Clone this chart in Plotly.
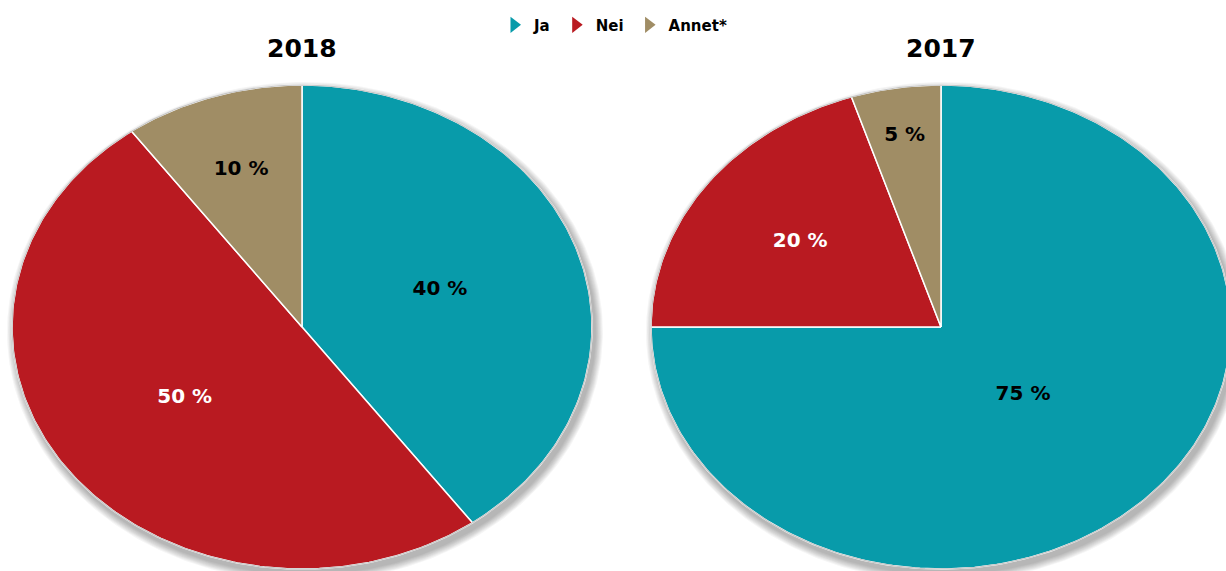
import numpy as np
import plotly.graph_objects as go

# ---- data ----
categories = ["Ja", "Nei", "Annet*"]
years = ["2018", "2017"]
values_2018 = [40, 50, 10]
values_2017 = [75, 20, 5]

# ---- style ----
colors = ["#089BAA", "#B91A21", "#A08D65"]
label_colors = ["black", "white", "black"]
label_radius = [[0.5, 0.5, 0.68], [0.4, 0.6, 0.8]]  # fraction of radius for label placement
W, H = 1226, 571
pies = [dict(cx=302, cy=327, rx=290, ry=242), dict(cx=941, cy=327, rx=290, ry=242)]
FONT = "DejaVu Sans"

fig = go.Figure()


def ell(p, t, r=1.0, dx=0.0, dy=0.0, grow=0.0):
    return (p["cx"] + dx + (p["rx"] + grow) * r * np.sin(t),
            p["cy"] + dy - (p["ry"] + grow) * r * np.cos(t))


for pi, (p, vals) in enumerate(zip(pies, [values_2018, values_2017])):
    full = np.linspace(0, 2 * np.pi, 400)
    # soft shadow
    for k in range(8):
        sx, sy = ell(p, full, dx=3, dy=5, grow=8 - k)
        fig.add_trace(go.Scatter(x=sx, y=sy, mode="lines", fill="toself",
                                 fillcolor="rgba(0,0,0,0.04)", line=dict(width=0),
                                 hoverinfo="skip", showlegend=False))
    total = sum(vals)
    start = 0.0
    lx, ly = [], []
    for i, v in enumerate(vals):
        a0 = start / total * 2 * np.pi
        a1 = (start + v) / total * 2 * np.pi
        t = np.linspace(a0, a1, max(int(v * 4), 20))
        ax, ay = ell(p, t)
        xs = np.concatenate([[p["cx"]], ax, [p["cx"]]])
        ys = np.concatenate([[p["cy"]], ay, [p["cy"]]])
        fig.add_trace(go.Scatter(x=xs, y=ys, mode="lines", fill="toself",
                                 fillcolor=colors[i], line=dict(color="white", width=1.5),
                                 hoverinfo="skip", showlegend=False))
        mid = (a0 + a1) / 2
        tx, ty = ell(p, mid, r=label_radius[pi][i])
        lx.append(tx)
        ly.append(ty)
        start += v
    ox, oy = ell(p, full)
    fig.add_trace(go.Scatter(x=ox, y=oy, mode="lines", line=dict(color="rgb(200,200,200)", width=1.2),
                             hoverinfo="skip", showlegend=False))
    fig.add_trace(go.Scatter(x=lx, y=ly, mode="text",
                             text=[f"{v} %" for v in vals],
                             textfont=dict(family=FONT, size=20, weight="bold", color=label_colors),
                             hoverinfo="skip", showlegend=False))
    fig.add_annotation(x=p["cx"], y=48, text=years[pi], showarrow=False, xref="x", yref="y",
                       font=dict(family=FONT, size=25, weight="bold", color="black"))

for i, c in enumerate(categories):
    fig.add_trace(go.Scatter(x=[None], y=[None], mode="markers", name=c,
                             marker=dict(symbol="triangle-right", size=14, color=colors[i])))

fig.update_layout(
    width=W, height=H, margin=dict(l=0, r=0, t=0, b=0),
    paper_bgcolor="white", plot_bgcolor="white",
    xaxis=dict(range=[0, W], visible=False, fixedrange=True),
    yaxis=dict(range=[H, 0], visible=False, fixedrange=True),
    legend=dict(orientation="h", x=0.5, xanchor="center", y=0.985, yanchor="top",
                font=dict(family=FONT, size=15, weight="bold", color="black"),
                itemwidth=30, tracegroupgap=0, bgcolor="rgba(0,0,0,0)"),
)

fig.write_html("out.html")
